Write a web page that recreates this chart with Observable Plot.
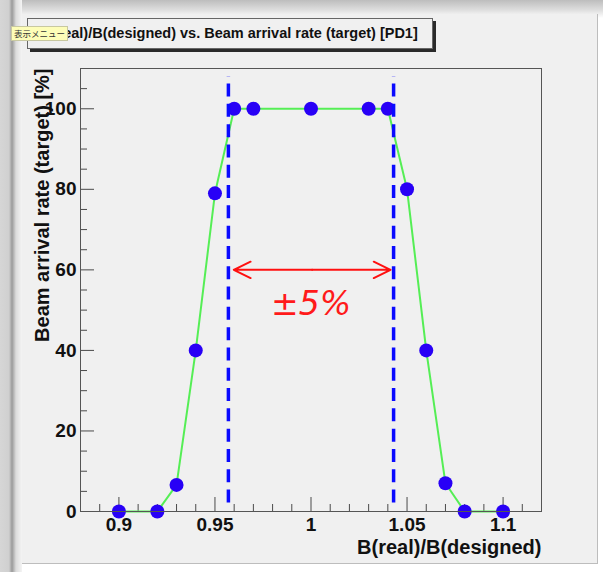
<!DOCTYPE html>
<html>
<head>
<meta charset="utf-8">
<script src="https://cdn.jsdelivr.net/npm/d3@7"></script>
<script src="https://cdn.jsdelivr.net/npm/@observablehq/plot@0.6"></script>
<style>
html, body { margin: 0; padding: 0; background: #ffffff; }
#wrap { position: relative; width: 603px; height: 572px; overflow: hidden; font-family: "Liberation Sans", Arial, sans-serif;
  background: linear-gradient(#bdbdbd, #dedede 10px, #ffffff 18px); }
#leftband { position: absolute; left: 0; top: 0; width: 22px; height: 572px;
  background: linear-gradient(to right, #d6d6d6 0px, #d0d0d0 9px, #9a9a9a 12px, #dcdcdc 16px, #f4f4f4 22px); }
#panel { position: absolute; left: 22px; top: 14px; width: 575px; height: 549px; background: #f0f0f0;
  border-right: 1px solid #bdbdbd; border-bottom: 1px solid #bdbdbd; }
#titlebox { position: absolute; left: 27px; top: 18px; width: 404px; height: 29px; background: #f0f0f0;
  border: 1px solid #666; box-shadow: 3px 3px 0 #2a2a2a; font-weight: bold; font-size: 14.5px;
  line-height: 29px; text-align: center; white-space: nowrap; color: #111; }
#tip { position: absolute; left: 11px; top: 26px; height: 13px; background: #fdfdb8; border: 1px solid #c8c8a0;
  font-size: 8.5px; line-height: 13px; padding: 0 2px; color: #333; white-space: nowrap;
  font-family: "Noto Sans CJK JP", sans-serif; }
#chart { position: absolute; left: 0; top: 0; }
</style>
</head>
<body>
<div id="wrap">
  <div id="leftband"></div>
  <div id="panel"></div>
  <div id="chart"></div>
  <div id="titlebox">B(real)/B(designed) vs. Beam arrival rate (target) [PD1]</div>
  <div id="tip">表示メニュー</div>
</div>
<script>
// ---- data ----
const ratio = [0.9, 0.92, 0.93, 0.94, 0.95, 0.96, 0.97, 1.0, 1.03, 1.04, 1.05, 1.06, 1.07, 1.08, 1.1];
const arrival = [0, 0, 6.6, 40, 79, 100, 100, 100, 100, 100, 80, 40, 7, 0, 0];

const xMajorTicks = [0.9, 0.95, 1, 1.05, 1.1];
const xTickLabels = ["0.9", "0.95", "1", "1.05", "1.1"];
const xMinorTicks = [0.89, 0.91, 0.92, 0.93, 0.94, 0.96, 0.97, 0.98, 0.99, 1.01, 1.02, 1.03, 1.04, 1.06, 1.07, 1.08, 1.09, 1.11];
const yMajorTicks = [0, 20, 40, 60, 80, 100];
const yTickLabels = ["0", "20", "40", "60", "80", "100"];
const yMinorTicks = [5, 10, 15, 25, 30, 35, 45, 50, 55, 65, 70, 75, 85, 90, 95, 105];

const xDomain = [0.88, 1.12];
const yDomain = [0, 110];

const xTitle = "B(real)/B(designed)";
const yTitle = "Beam arrival rate (target) [%]";

// annotations
const limitLines = [0.957, 1.043];
const limitSpan = [2.1, 108];
const arrowEnds = [0.9598, 1.0414];
const arrowLevel = 60;
const bandLabel = "±5%";
const bandLabelPos = [1.0, 51.5];

// ---- build ----
const data = ratio.map((r, i) => ({r, a: arrival[i]}));
const mid = (arrowEnds[0] + arrowEnds[1]) / 2;
const arrows = arrowEnds.map(e => ({x1: mid, x2: e, y: arrowLevel}));
const limits = limitLines.map(x => ({x, y1: limitSpan[0], y2: limitSpan[1]}));

const W = 603, H = 572;
const mL = 80, mR = 62, mT = 68, mB = 61;
const fw = W - mL - mR, fh = H - mT - mB;
const axisColor = "#4a4a4a";

const chart = Plot.plot({
  width: W, height: H,
  marginLeft: mL, marginRight: mR, marginTop: mT, marginBottom: mB,
  style: {background: "transparent", fontFamily: "Liberation Sans, Arial, sans-serif", color: "#000", overflow: "visible"},
  x: {domain: xDomain, axis: null},
  y: {domain: yDomain, axis: null},
  marks: [
    // ticks (inward, ROOT style)
    Plot.tickX(xMinorTicks, {x: d => d, insetTop: fh - 7, stroke: axisColor}),
    Plot.tickX(xMajorTicks, {x: d => d, insetTop: fh - 14, stroke: axisColor}),
    Plot.tickY(yMinorTicks, {y: d => d, insetRight: fw - 7, stroke: axisColor}),
    Plot.tickY(yMajorTicks, {y: d => d, insetRight: fw - 14, stroke: axisColor}),
    Plot.axisX(xMajorTicks, {tickSize: 0, tickPadding: 6, tickFormat: d => xTickLabels[xMajorTicks.indexOf(d)],
      fontSize: 19, fontWeight: "bold", label: null, fill: "#111"}),
    Plot.axisY(yMajorTicks, {tickSize: 0, tickPadding: 4, tickFormat: d => yTickLabels[yMajorTicks.indexOf(d)],
      fontSize: 19, fontWeight: "bold", label: null, fill: "#111"}),
    Plot.text([xTitle], {frameAnchor: "bottom-right", dy: 36, textAnchor: "end", lineAnchor: "middle",
      fontSize: 20, fontWeight: "bold", fill: "#111"}),
    Plot.text([yTitle], {frameAnchor: "top-left", dx: -38, rotate: -90, textAnchor: "end", lineAnchor: "middle",
      fontSize: 20, fontWeight: "bold", fill: "#111"}),
    // data
    Plot.line(data, {x: "r", y: "a", stroke: "#55ee55", strokeWidth: 2}),
    Plot.dot(data, {x: "r", y: "a", r: 7, fill: "#2800f6", stroke: "none"}),
    // annotations
    Plot.ruleX(limits, {x: "x", y1: "y1", y2: "y2", stroke: "#0a0aff", strokeWidth: 3.5, strokeDasharray: "13,7.3"}),
    Plot.arrow(arrows, {x1: "x1", y1: "y", x2: "x2", y2: "y", stroke: "#ff1010", strokeWidth: 2, headLength: 14, headAngle: 52}),
    Plot.text([bandLabel], {x: () => bandLabelPos[0], y: () => bandLabelPos[1], fontSize: 33, fontStyle: "italic",
      fill: "#ff1a1a", fontFamily: "DejaVu Sans, Liberation Sans, sans-serif", textAnchor: "middle", lineAnchor: "middle"}),
    Plot.frame({stroke: "#555"})
  ]
});
document.getElementById("chart").appendChild(chart);
</script>
</body>
</html>
